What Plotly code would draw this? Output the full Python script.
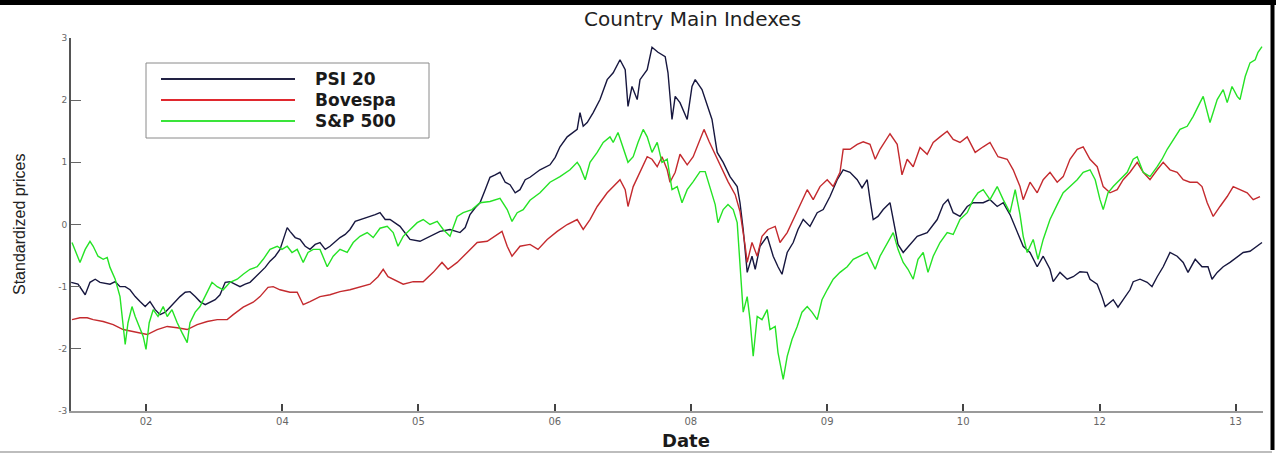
import plotly.graph_objects as go

# ---------------- data (observation index, standardized price) ----------------
tick_obs = [190, 531, 871, 1212, 1552, 1893, 2233, 2574, 2914]
tick_labels = ["02", "04", "05", "06", "08", "09", "10", "12", "13"]

psi_obs = [3, 20, 38, 50, 63, 75, 100, 113, 125, 138, 150, 163, 175, 188, 200, 213, 225, 238, 250, 263,
           275, 288, 300, 313, 325, 338, 350, 363, 375, 388, 400, 413, 425, 438, 450, 463, 475, 488, 500, 513,
           525, 533, 543, 550, 563, 575, 588, 600, 613, 625, 638, 650, 663, 675, 688, 700, 713, 725, 738, 750,
           763, 775, 788, 800, 825, 850, 875, 900, 925, 950, 975, 988, 1000, 1013, 1025, 1038, 1050, 1063, 1075, 1088,
           1100, 1113, 1125, 1138, 1150, 1175, 1200, 1213, 1225, 1243, 1268, 1275, 1283, 1293, 1308, 1325, 1343, 1358, 1375, 1388,
           1395, 1405, 1418, 1425, 1443, 1455, 1470, 1488, 1495, 1505, 1513, 1525, 1543, 1555, 1563, 1580, 1593, 1605, 1618, 1633,
           1650, 1668, 1675, 1683, 1693, 1705, 1713, 1725, 1743, 1758, 1770, 1780, 1793, 1808, 1820, 1833, 1850, 1868, 1883, 1900,
           1918, 1933, 1950, 1968, 1980, 1993, 2000, 2008, 2020, 2033, 2050, 2058, 2070, 2083, 2100, 2118, 2143, 2168, 2183, 2195,
           2208, 2225, 2243, 2258, 2283, 2300, 2318, 2333, 2350, 2368, 2383, 2400, 2418, 2433, 2450, 2458, 2475, 2493, 2508, 2525,
           2543, 2550, 2568, 2580, 2588, 2608, 2620, 2633, 2650, 2658, 2675, 2693, 2705, 2718, 2733, 2750, 2768, 2783, 2795, 2813,
           2830, 2845, 2855, 2868, 2883, 2900, 2918, 2933, 2950, 2968, 2980]
psi_val = [-0.93, -0.96, -1.13, -0.93, -0.88, -0.93, -0.96, -0.92, -1.00, -1.00, -1.05, -1.16, -1.24, -1.32, -1.24, -1.37, -1.45, -1.41, -1.33, -1.24,
           -1.16, -1.09, -1.08, -1.16, -1.24, -1.29, -1.25, -1.21, -1.13, -0.93, -0.92, -0.96, -1.00, -0.96, -0.93, -0.85, -0.77, -0.69, -0.59, -0.51,
           -0.40, -0.24, -0.05, -0.11, -0.21, -0.24, -0.35, -0.40, -0.32, -0.29, -0.40, -0.35, -0.27, -0.21, -0.16, -0.08, 0.05, 0.08, 0.11, 0.13,
           0.16, 0.19, 0.08, 0.08, -0.03, -0.24, -0.27, -0.19, -0.11, -0.08, -0.13, -0.05, 0.16, 0.27, 0.35, 0.56, 0.76, 0.80, 0.84, 0.68,
           0.64, 0.51, 0.56, 0.72, 0.76, 0.88, 0.96, 1.08, 1.25, 1.41, 1.53, 1.80, 1.58, 1.64, 1.80, 2.01, 2.33, 2.44, 2.65, 2.49,
           1.90, 2.22, 2.01, 2.33, 2.49, 2.85, 2.77, 2.70, 2.44, 1.69, 2.06, 1.96, 1.69, 2.22, 2.33, 2.17, 1.90, 1.69, 1.16, 1.00,
           0.77, 0.61, 0.35, -0.08, -0.77, -0.51, -0.72, -0.35, -0.19, -0.51, -0.68, -0.80, -0.45, -0.29, -0.08, 0.08, -0.03, 0.19, 0.24, 0.45,
           0.72, 0.88, 0.84, 0.72, 0.59, 0.72, 0.40, 0.08, 0.13, 0.24, 0.35, 0.08, -0.32, -0.45, -0.32, -0.19, -0.13, 0.08, 0.32, 0.40,
           0.19, 0.13, 0.29, 0.35, 0.35, 0.40, 0.29, 0.35, 0.16, -0.13, -0.35, -0.45, -0.68, -0.51, -0.72, -0.92, -0.77, -0.88, -0.84, -0.76,
           -0.77, -0.88, -0.96, -1.16, -1.32, -1.21, -1.33, -1.21, -1.05, -0.92, -0.88, -0.93, -1.00, -0.84, -0.68, -0.45, -0.51, -0.61, -0.77, -0.56,
           -0.68, -0.68, -0.88, -0.77, -0.68, -0.61, -0.53, -0.45, -0.43, -0.35, -0.29]

bov_obs = [5, 25, 43, 58, 83, 108, 133, 158, 193, 218, 243, 268, 293, 318, 343, 368, 393, 408, 433, 458,
           475, 495, 508, 525, 550, 568, 583, 600, 625, 650, 675, 700, 725, 750, 770, 783, 795, 808, 833, 858,
           883, 908, 930, 945, 968, 993, 1018, 1043, 1063, 1080, 1093, 1105, 1125, 1150, 1170, 1193, 1218, 1243, 1268, 1283,
           1300, 1318, 1343, 1375, 1388, 1395, 1408, 1425, 1443, 1455, 1468, 1480, 1493, 1500, 1513, 1525, 1543, 1558, 1575, 1585,
           1598, 1613, 1630, 1645, 1663, 1675, 1688, 1693, 1705, 1718, 1730, 1745, 1763, 1775, 1793, 1808, 1825, 1843, 1858, 1875,
           1893, 1908, 1925, 1933, 1950, 1968, 1983, 2000, 2013, 2025, 2050, 2068, 2080, 2093, 2108, 2125, 2143, 2158, 2175, 2193,
           2208, 2225, 2243, 2263, 2283, 2300, 2320, 2343, 2358, 2375, 2383, 2400, 2418, 2433, 2450, 2468, 2483, 2500, 2518, 2533,
           2550, 2568, 2583, 2600, 2618, 2633, 2650, 2668, 2683, 2700, 2718, 2733, 2750, 2768, 2783, 2800, 2818, 2830, 2843, 2858,
           2875, 2893, 2908, 2925, 2943, 2958, 2975]
bov_val = [-1.53, -1.50, -1.50, -1.53, -1.56, -1.61, -1.69, -1.72, -1.77, -1.69, -1.64, -1.66, -1.69, -1.61, -1.56, -1.53, -1.53, -1.45, -1.33, -1.25,
           -1.16, -1.01, -1.00, -1.05, -1.09, -1.09, -1.29, -1.24, -1.16, -1.13, -1.08, -1.05, -1.00, -0.96, -0.84, -0.72, -0.84, -0.88, -0.96, -0.92,
           -0.92, -0.77, -0.61, -0.72, -0.61, -0.45, -0.29, -0.27, -0.19, -0.11, -0.35, -0.51, -0.35, -0.32, -0.40, -0.24, -0.11, 0.00, 0.08, -0.08,
           0.08, 0.29, 0.51, 0.72, 0.56, 0.29, 0.61, 0.84, 1.09, 1.05, 0.93, 1.09, 0.88, 0.68, 0.84, 1.13, 0.96, 1.09, 1.37, 1.53,
           1.33, 1.13, 0.88, 0.69, 0.48, 0.21, -0.35, -0.61, -0.29, -0.51, -0.19, -0.08, -0.03, -0.29, -0.13, 0.08, 0.29, 0.56, 0.40, 0.61,
           0.72, 0.61, 0.84, 1.21, 1.21, 1.29, 1.33, 1.29, 1.05, 1.21, 1.46, 1.29, 0.80, 1.05, 0.93, 1.24, 1.13, 1.32, 1.41, 1.50,
           1.37, 1.32, 1.41, 1.16, 1.25, 1.32, 1.09, 1.05, 0.88, 0.61, 0.40, 0.68, 0.51, 0.72, 0.84, 0.68, 0.77, 1.05, 1.21, 1.25,
           1.05, 0.93, 0.61, 0.51, 0.56, 0.72, 0.84, 1.00, 0.84, 0.72, 0.88, 1.00, 0.88, 0.84, 0.72, 0.68, 0.68, 0.61, 0.35, 0.13,
           0.29, 0.45, 0.61, 0.56, 0.51, 0.40, 0.45]

sp_obs = [5, 18, 25, 38, 50, 58, 70, 83, 93, 100, 113, 125, 133, 138, 145, 155, 163, 175, 183, 190,
          198, 208, 220, 233, 243, 255, 268, 280, 293, 300, 313, 325, 343, 355, 368, 383, 400, 418, 433, 450,
          468, 483, 500, 518, 530, 543, 555, 568, 583, 595, 608, 625, 643, 658, 675, 693, 708, 725, 743, 758,
          775, 793, 808, 820, 833, 850, 868, 883, 900, 918, 933, 950, 968, 983, 1005, 1025, 1050, 1075, 1093, 1105,
          1118, 1133, 1150, 1175, 1200, 1225, 1250, 1268, 1275, 1288, 1300, 1318, 1333, 1350, 1358, 1370, 1383, 1395, 1408, 1420,
          1433, 1443, 1455, 1468, 1480, 1493, 1505, 1518, 1530, 1543, 1558, 1575, 1588, 1600, 1613, 1620, 1633, 1645, 1658, 1668,
          1680, 1683, 1693, 1700, 1708, 1718, 1730, 1743, 1750, 1763, 1770, 1783, 1793, 1805, 1818, 1830, 1843, 1855, 1868, 1880,
          1893, 1908, 1925, 1943, 1958, 1975, 1993, 2005, 2013, 2025, 2043, 2058, 2070, 2083, 2095, 2108, 2120, 2133, 2145, 2158,
          2175, 2193, 2208, 2225, 2243, 2258, 2270, 2283, 2300, 2318, 2333, 2350, 2363, 2375, 2383, 2393, 2408, 2420, 2433, 2450,
          2468, 2483, 2500, 2518, 2533, 2550, 2563, 2575, 2583, 2595, 2608, 2625, 2643, 2658, 2668, 2683, 2700, 2718, 2730, 2743,
          2758, 2775, 2793, 2808, 2825, 2833, 2850, 2868, 2883, 2893, 2905, 2918, 2925, 2938, 2950, 2963, 2970, 2980]
sp_val = [-0.29, -0.51, -0.61, -0.40, -0.27, -0.35, -0.51, -0.56, -0.53, -0.69, -0.88, -1.16, -1.58, -1.93, -1.58, -1.32, -1.48, -1.69, -1.80, -2.01,
          -1.58, -1.37, -1.48, -1.32, -1.48, -1.37, -1.58, -1.74, -1.90, -1.58, -1.41, -1.32, -1.09, -0.93, -1.00, -1.05, -0.93, -0.88, -0.80, -0.72,
          -0.68, -0.56, -0.40, -0.35, -0.40, -0.35, -0.45, -0.40, -0.61, -0.45, -0.40, -0.40, -0.68, -0.51, -0.40, -0.45, -0.29, -0.19, -0.13, -0.21,
          -0.06, -0.03, -0.13, -0.35, -0.19, -0.08, 0.03, 0.08, 0.00, 0.05, -0.08, -0.19, 0.13, 0.19, 0.24, 0.35, 0.37, 0.42, 0.24, 0.05,
          0.19, 0.24, 0.39, 0.51, 0.68, 0.77, 0.88, 1.00, 0.93, 0.72, 1.00, 1.16, 1.32, 1.41, 1.32, 1.48, 1.21, 1.00, 1.09, 1.32,
          1.53, 1.41, 1.16, 1.32, 1.00, 1.05, 0.56, 0.61, 0.35, 0.56, 0.69, 0.85, 0.85, 0.61, 0.32, 0.03, 0.24, 0.32, 0.24, 0.03,
          -1.00, -1.41, -1.16, -1.53, -2.12, -1.48, -1.53, -1.37, -1.69, -1.64, -2.06, -2.49, -2.12, -1.85, -1.64, -1.41, -1.32, -1.41, -1.53, -1.21,
          -1.05, -0.88, -0.77, -0.68, -0.56, -0.51, -0.45, -0.61, -0.72, -0.51, -0.29, -0.13, -0.40, -0.61, -0.72, -0.88, -0.56, -0.45, -0.77, -0.51,
          -0.29, -0.13, -0.16, 0.08, 0.19, 0.40, 0.51, 0.56, 0.40, 0.61, 0.40, 0.19, 0.56, 0.16, -0.19, -0.45, -0.24, -0.56, -0.24, 0.08,
          0.32, 0.51, 0.61, 0.72, 0.84, 0.88, 0.72, 0.40, 0.24, 0.51, 0.61, 0.72, 0.84, 1.05, 1.09, 0.84, 0.77, 0.93, 1.05, 1.21,
          1.37, 1.53, 1.58, 1.74, 1.96, 2.06, 1.64, 2.01, 2.17, 1.96, 2.22, 2.06, 2.01, 2.38, 2.60, 2.65, 2.77, 2.86]

series_names = ["PSI 20", "Bovespa", "S&P 500"]
series_colors = ["#17173f", "#c42a2e", "#25e325"]

# ---------------- figure ----------------
fig = go.Figure()
for name, xs, ys, col in zip(series_names, [psi_obs, bov_obs, sp_obs], [psi_val, bov_val, sp_val], series_colors):
    fig.add_trace(go.Scatter(x=xs, y=ys, mode="lines", name=name,
                             line=dict(color=col, width=1.4), showlegend=False))

# plot area in pixels: x 71..1263, y 38..411
W, H = 1278, 454
L, R, T, B = 71, 15, 38, 43
pw, ph = W - L - R, H - T - B


def px(xp):
    return (xp - L) / pw


def py(yp):
    return (H - B - yp) / ph


shapes = []
annotations = []

# custom legend
shapes.append(dict(type="rect", xref="paper", yref="paper", x0=px(146), x1=px(429), y0=py(138), y1=py(63),
                   line=dict(color="#8a8a8a", width=1), fillcolor="white", layer="above"))
legend_colors = ["#222244", "#e0282e", "#3ae43a"]
for i, (name, col) in enumerate(zip(series_names, legend_colors)):
    yy = py(79 + 21 * i)
    shapes.append(dict(type="line", xref="paper", yref="paper", x0=px(161), x1=px(295), y0=yy, y1=yy,
                       line=dict(color=col, width=2), layer="above"))
    annotations.append(dict(text=name, xref="paper", yref="paper", x=px(313), y=yy, xanchor="left",
                            yanchor="middle", showarrow=False,
                            font=dict(family="DejaVu Sans", size=17, color="#1a1a1a", weight="bold")))

# title and axis titles
annotations.append(dict(text="Country Main Indexes", xref="paper", yref="paper", x=px(692), y=py(19),
                        xanchor="center", yanchor="middle", showarrow=False,
                        font=dict(family="DejaVu Sans", size=20, color="#222222")))
annotations.append(dict(text="Date", xref="paper", yref="paper", x=px(686), y=py(440),
                        xanchor="center", yanchor="middle", showarrow=False,
                        font=dict(family="DejaVu Sans", size=18, color="#1a1a1a", weight="bold")))
annotations.append(dict(text="Standardized prices", xref="paper", yref="paper", x=px(19), y=py(225),
                        xanchor="center", yanchor="middle", showarrow=False, textangle=-90,
                        font=dict(family="Liberation Sans Narrow, Liberation Sans, sans-serif",
                                  size=16, color="#222222")))

# outer frame lines (top black, right black, bottom gray)
shapes.append(dict(type="line", xref="paper", yref="paper", x0=px(0), x1=px(1276), y0=py(2.5), y1=py(2.5),
                   line=dict(color="#000000", width=5)))
shapes.append(dict(type="line", xref="paper", yref="paper", x0=px(1272.5), x1=px(1272.5), y0=py(0), y1=py(450),
                   line=dict(color="#000000", width=4)))
shapes.append(dict(type="line", xref="paper", yref="paper", x0=px(0), x1=px(1272), y0=py(452), y1=py(452),
                   line=dict(color="#bdbdbd", width=2)))

fig.update_layout(
    width=W, height=H,
    margin=dict(l=L, r=R, t=T, b=B),
    paper_bgcolor="white", plot_bgcolor="white",
    shapes=shapes, annotations=annotations,
    showlegend=False,
)
fig.update_xaxes(range=[2.5, 2982.5], tickmode="array", tickvals=tick_obs, ticktext=tick_labels,
                 showgrid=False, zeroline=False, showline=True, linecolor="#9a9a9a", linewidth=2,
                 ticks="inside", ticklen=7, tickwidth=1.5, tickcolor="#444444",
                 tickfont=dict(family="DejaVu Sans", size=10, color="#666666"))
fig.update_yaxes(range=[-3, 3], tickmode="array", tickvals=[-3, -2, -1, 0, 1, 2, 3],
                 ticktext=["-3", "-2", "-1", "0", "1", "2", "3"],
                 showgrid=False, zeroline=False, showline=True, linecolor="#555555", linewidth=2,
                 ticks="inside", ticklen=10, tickwidth=1, tickcolor="#666666",
                 tickfont=dict(family="DejaVu Sans", size=9, color="#666666"))

fig.write_html("out.html")
